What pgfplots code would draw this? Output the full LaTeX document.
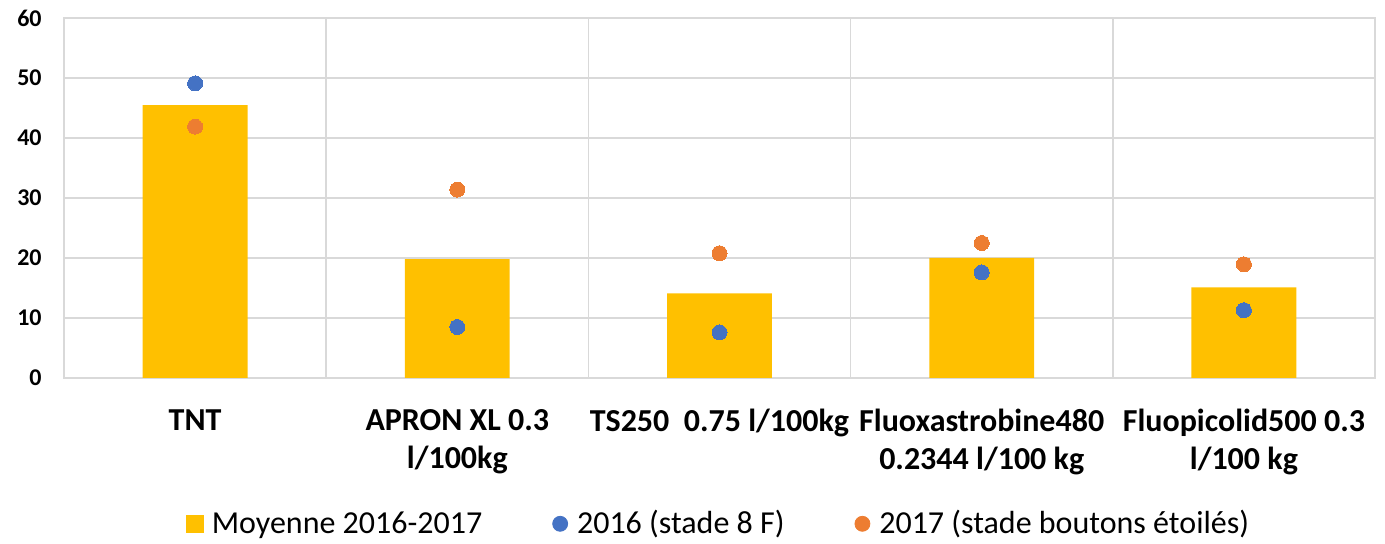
\documentclass[border=0pt]{standalone}
\usepackage{fontspec}
\setmainfont{Carlito}
\usepackage{pgfplots}
\pgfplotsset{compat=1.18}
\definecolor{cyellow}{HTML}{FFC000}
\definecolor{cblue}{HTML}{4472C4}
\definecolor{corange}{HTML}{ED7D31}
\definecolor{gridgray}{HTML}{D9D9D9}
\begin{document}
\begin{tikzpicture}[x=1pt,y=1pt]
\useasboundingbox (-32,-83) rectangle (660.5,189);
\begin{axis}[
  at={(0,0)}, anchor=south west,
  scale only axis, width=655.5pt, height=180pt,
  xmin=-0.5, xmax=4.5, ymin=0, ymax=60,
  ytick={0,10,...,60},
  xtick={0,...,4},
  xticklabels={TNT, APRON XL 0.3\\l/100kg, TS250\ \ 0.75 l/100kg, Fluoxastrobine480\\0.2344 l/100 kg, Fluopicolid500 0.3\\l/100 kg},
  minor xtick={-0.5,0.5,...,4.5},
  xminorgrids, ymajorgrids,
  grid style={draw=gridgray, line width=0.75pt},
  minor grid style={draw=gridgray, line width=0.75pt},
  axis line style={draw=gridgray, line width=0.75pt},
  major tick length=0pt, minor tick length=0pt,
  tick style={draw=none},
  /pgf/number format/assume math mode=true,
  yticklabel style={font=\fontsize{12}{14}\selectfont\bfseries, inner sep=0pt, xshift=-11pt},
  xticklabel style={font=\fontsize{16}{19}\selectfont\bfseries, align=center, anchor=north, inner sep=0pt, yshift=-15.5pt},
  legend columns=3,
  legend style={draw=none, fill=none, at={(0.5,-0.405)}, anchor=center,
    font=\fontsize{16}{19}\selectfont,
    /tikz/every even column/.append style={column sep=33pt}},
]
\addplot[ybar, bar width=0.4, fill=cyellow, draw=none,
  legend image code/.code={\fill[cyellow] (0pt,-4.5pt) rectangle (9pt,4.5pt); \path (11pt,0pt);}]
  coordinates {(0,45.5) (1,19.8) (2,14.1) (3,20.0) (4,15.1)};
\addlegendentry{Moyenne 2016-2017}
\addplot[only marks, color=cblue, mark=*, mark size=3.75pt, mark options={fill=cblue, draw=cblue, line width=0pt},
  legend image code/.code={\fill[cblue] (3.75pt,0pt) circle (3.75pt); \path (10pt,0pt);}]
  coordinates {(0,49.1) (1,8.5) (2,7.6) (3,17.6) (4,11.3)};
\addlegendentry{2016 (stade 8 F)}
\addplot[only marks, color=corange, mark=*, mark size=3.75pt, mark options={fill=corange, draw=corange, line width=0pt},
  legend image code/.code={\fill[corange] (3.75pt,0pt) circle (3.75pt); \path (10pt,0pt);}]
  coordinates {(0,41.9) (1,31.4) (2,20.8) (3,22.5) (4,18.95)};
\addlegendentry{2017 (stade boutons étoilés)}
\end{axis}
\end{tikzpicture}
\end{document}
